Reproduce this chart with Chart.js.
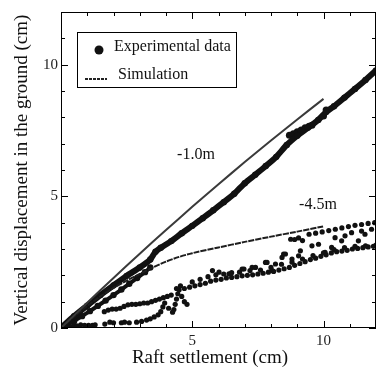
<!DOCTYPE html>
<html>
<head>
<meta charset="utf-8">
<script src="https://cdn.jsdelivr.net/npm/chart.js@4.4.1/dist/chart.umd.min.js"></script>
<style>
  html, body { margin: 0; padding: 0; background: #fff; overflow: hidden; }
  #wrap { width: 380px; height: 367px; }
</style>
</head>
<body>
<div id="wrap"><canvas id="chart" width="380" height="367"></canvas></div>
<script>
// axis ticks
const xTickLabels = [5, 10];
const yTickLabels = [0, 5, 10];

// simulation, -1.0 m
const simShallowX = [0, 1, 2, 3, 4, 5, 6, 7, 8, 9, 10];
const simShallowY = [0, 0.96, 1.9, 2.82, 3.72, 4.6, 5.46, 6.3, 7.12, 7.92, 8.7];

// simulation, -4.5 m
const simDeepX = [0, 0.5, 1, 1.5, 2, 2.5, 3, 3.5, 4, 4.5, 5, 6, 7, 8, 9, 10];
const simDeepY = [0, 0.44, 0.84, 1.2, 1.52, 1.8, 2.05, 2.3, 2.52, 2.7, 2.84, 3.06, 3.27, 3.47, 3.66, 3.86];

// experimental, -1.0 m (dense band)
const expShallowX = [0, 0.5, 1, 1.5, 2, 2.5, 3, 3.4, 3.6, 3.8, 4.2, 4.6, 5, 5.4, 5.8, 6.2, 6.6, 7, 7.4, 7.8, 8.2, 8.6, 9, 9.4, 9.8, 10.1, 10.4, 10.8, 11.2, 11.6, 12];
const expShallowY = [0, 0.45, 0.85, 1.25, 1.62, 1.98, 2.3, 2.6, 2.9, 3.05, 3.3, 3.6, 3.88, 4.17, 4.47, 4.78, 5.1, 5.5, 5.82, 6.15, 6.5, 6.95, 7.3, 7.6, 7.9, 8.2, 8.42, 8.75, 9.08, 9.42, 9.78];

// experimental, -1.0 m: thick side piece near 9 cm
const expShallowSideX = [8.7, 8.85, 9.0, 9.15, 9.3, 9.45, 9.56, 10.0, 10.1];
const expShallowSideY = [7.32, 7.38, 7.45, 7.52, 7.6, 7.66, 7.7, 8.05, 8.28];

// experimental, -4.5 m: early stream out of the origin
const expDeepStartX = [0.2, 0.5, 0.8, 1.1, 1.4, 1.7, 2.0, 2.3, 2.6, 2.9, 3.2, 3.4];
const expDeepStartY = [0.1, 0.27, 0.45, 0.64, 0.84, 1.04, 1.25, 1.46, 1.68, 1.9, 2.12, 2.3];

// experimental, -4.5 m: points near zero
const expDeepLowX = [0.05, 0.2, 0.35, 0.5, 0.6, 0.75, 0.9, 1.05, 1.2, 1.3, 1.67, 1.86, 2.0, 2.3, 2.42, 2.6, 2.88, 3.07, 3.26, 3.4, 3.55, 3.7, 3.8, 3.88, 3.95];
const expDeepLowY = [0.05, 0.08, 0.05, 0.1, 0.08, 0.12, 0.1, 0.1, 0.1, 0.12, 0.15, 0.22, 0.2, 0.2, 0.22, 0.2, 0.22, 0.25, 0.3, 0.35, 0.42, 0.5, 0.62, 0.8, 0.95];

// experimental, -4.5 m: main stream
const expDeepMidX = [1.65, 1.8, 1.95, 2.1, 2.25, 2.4, 2.55, 2.7, 2.85, 3.0, 3.15, 3.3, 3.45, 3.6, 3.75, 3.9, 4.05, 4.2,
  4.3, 4.35, 4.4, 4.45, 4.5, 4.55, 4.4, 4.6, 4.7, 4.8, 4.25, 4.1,
  4.7, 4.9, 5.1, 5.3, 5.5, 5.7, 5.9, 6.1, 6.3, 6.5, 6.7, 6.9, 7.1, 7.3, 7.5, 7.7, 7.9, 8.1, 8.3, 8.5, 8.7, 8.9, 9.1, 9.3, 9.5, 9.7, 9.9, 10.1, 10.3, 10.5, 10.7, 10.9, 11.1, 11.3, 11.5, 11.7, 11.9,
  5.0, 5.3, 5.6, 5.9, 6.2, 6.5, 6.8, 7.2, 7.6, 8.0, 8.4, 8.8, 9.2, 9.6, 10.0, 10.4, 10.8, 11.2, 11.6, 12.0];
const expDeepMidY = [0.62, 0.68, 0.72, 0.72, 0.75, 0.82, 0.88, 0.9, 0.9, 0.92, 0.95, 0.95, 1.0, 1.05, 1.1, 1.15, 1.2, 1.25,
  0.7, 0.9, 1.1, 1.3, 1.45, 1.6, 1.5, 1.2, 1.0, 0.9, 0.6, 0.75,
  1.5, 1.55, 1.6, 1.65, 1.7, 1.78, 1.82, 1.85, 1.9, 1.92, 1.95, 1.98, 2.0, 2.02, 2.05, 2.08, 2.12, 2.15, 2.2, 2.25, 2.3, 2.38, 2.45, 2.52, 2.6, 2.65, 2.72, 2.78, 2.85, 2.9, 2.92, 2.95, 3.0, 3.02, 3.05, 3.08, 3.1,
  1.75, 1.85, 1.95, 2.02, 2.05, 2.1, 2.12, 2.18, 2.2, 2.3, 2.42, 2.5, 2.62, 2.75, 2.85, 2.98, 3.05, 3.1, 3.12, 3.15];

// experimental, -4.5 m: upper scatter
const expDeepHighX = [5.77, 6.02, 6.4, 6.9, 6.97, 7.28, 7.41, 7.79, 7.85, 8.04, 8.17, 8.42, 8.48, 8.55, 8.8, 9.05, 9.12, 9.56, 9.81, 10.06, 10.31, 10.44, 10.69, 10.82, 11.07, 11.33, 11.45, 11.58, 11.83,
  8.75, 8.9, 9.05, 9.2, 9.45, 9.7, 9.95, 10.2, 10.45, 10.7, 10.95, 11.2, 11.45, 11.7, 11.95];
const expDeepHighY = [2.18, 2.12, 2.06, 2.24, 2.24, 2.3, 2.3, 2.49, 2.49, 2.18, 2.43, 2.68, 2.81, 2.81, 2.62, 2.74, 2.93, 3.12, 3.18, 2.87, 3.06, 3.43, 3.31, 3.5, 3.62, 3.31, 3.68, 3.56, 3.75,
  3.37, 3.36, 3.42, 3.32, 3.56, 3.6, 3.65, 3.7, 3.75, 3.8, 3.85, 3.9, 3.93, 3.97, 4.0];

const serif = "'Liberation Serif', 'Times New Roman', serif";
const ink = "#111";

function toPoints(xs, ys) {
  return xs.map((x, i) => ({ x, y: ys[i] }));
}

function dotSet(xs, ys, r = 2.6) {
  return {
    data: toPoints(xs, ys),
    showLine: false,
    pointRadius: r,
    pointBackgroundColor: ink,
    pointBorderWidth: 0,
  };
}

function bandSet(xs, ys, width) {
  return {
    data: toPoints(xs, ys),
    showLine: true,
    borderColor: ink,
    borderWidth: width,
    pointRadius: 3.2,
    pointBackgroundColor: ink,
    pointBorderWidth: 0,
    tension: 0.2,
  };
}

function simSet(xs, ys, color, dash) {
  return {
    data: toPoints(xs, ys),
    showLine: true,
    borderColor: color,
    borderWidth: 2,
    borderDash: dash,
    pointRadius: 0,
    tension: 0.3,
  };
}

// frame with inward ticks on all four sides, legend, labels
const framePlugin = {
  id: "frame",
  afterDraw(chart) {
    const { ctx, chartArea: a, scales } = chart;
    const xs = scales.x;
    const ys = scales.y;
    ctx.save();
    ctx.strokeStyle = "#000";
    ctx.lineWidth = 1;
    ctx.strokeRect(a.left + 0.5, a.top + 0.5, a.right - a.left - 1, a.bottom - a.top - 1);

    ctx.beginPath();
    for (let v = 0; v <= 12; v++) {
      const len = v % 5 === 0 ? 7 : 4;
      const px = Math.round(xs.getPixelForValue(v)) + 0.5;
      ctx.moveTo(px, a.bottom);
      ctx.lineTo(px, a.bottom - len);
      ctx.moveTo(px, a.top);
      ctx.lineTo(px, a.top + len);
      const py = Math.round(ys.getPixelForValue(v)) + 0.5;
      ctx.moveTo(a.left, py);
      ctx.lineTo(a.left + len, py);
      ctx.moveTo(a.right, py);
      ctx.lineTo(a.right - len, py);
    }
    ctx.stroke();

    // legend box
    ctx.fillStyle = "#fff";
    ctx.fillRect(77, 32, 159, 55);
    ctx.strokeRect(77.5, 32.5, 159, 55);
    ctx.fillStyle = ink;
    ctx.beginPath();
    ctx.arc(99, 50, 4.5, 0, Math.PI * 2);
    ctx.fill();
    ctx.strokeStyle = "#222";
    ctx.lineWidth = 2;
    ctx.setLineDash([3, 1]);
    ctx.beginPath();
    ctx.moveTo(85, 79);
    ctx.lineTo(107, 79);
    ctx.stroke();
    ctx.setLineDash([]);

    ctx.fillStyle = "#111";
    ctx.textBaseline = "alphabetic";
    ctx.textAlign = "left";
    ctx.font = "16px " + serif;
    ctx.fillText("Experimental data", 114, 51);
    ctx.fillText("Simulation", 118, 79);

    ctx.textAlign = "center";
    ctx.fillText("-1.0m", 196, 159);
    ctx.fillText("-4.5m", 318, 209);

    ctx.font = "19px " + serif;
    ctx.textBaseline = "middle";
    ctx.fillText("Raft settlement (cm)", 210, 358);
    ctx.restore();
  },
};

new Chart(document.getElementById("chart"), {
  type: "scatter",
  data: {
    datasets: [
      simSet(simShallowX, simShallowY, "#3a3a3a", []),
      simSet(simDeepX, simDeepY, "#1e1e1e", [6, 1]),
      bandSet(expShallowX, expShallowY, 6),
      dotSet(expShallowSideX, expShallowSideY, 3.5),
      bandSet(expDeepStartX, expDeepStartY, 4),
      dotSet(expDeepLowX, expDeepLowY),
      dotSet(expDeepMidX, expDeepMidY),
      dotSet(expDeepHighX, expDeepHighY),
    ],
  },
  options: {
    responsive: false,
    animation: false,
    events: [],
    layout: { padding: { top: 9, right: 2, left: 0, bottom: 0 } },
    plugins: {
      legend: { display: false },
      tooltip: { enabled: false },
    },
    scales: {
      x: {
        type: "linear",
        min: 0,
        max: 12,
        afterFit: (s) => { s.height = 39; },
        grid: { display: false, drawTicks: false },
        border: { display: false },
        ticks: {
          stepSize: 1,
          autoSkip: false,
          maxRotation: 0,
          padding: 4,
          color: "#222",
          font: { family: serif, size: 15 },
          callback: (v) => (xTickLabels.includes(v) ? String(v) : ""),
        },
      },
      y: {
        type: "linear",
        min: 0,
        max: 12,
        afterFit: (s) => { s.width = 61; },
        grid: { display: false, drawTicks: false },
        border: { display: false },
        ticks: {
          stepSize: 1,
          autoSkip: false,
          padding: 3,
          color: "#222",
          font: { family: serif, size: 15 },
          callback: (v) => (yTickLabels.includes(v) ? String(v) : ""),
        },
        title: {
          display: true,
          text: "Vertical displacement in the ground (cm)",
          color: "#111",
          font: { family: serif, size: 19, lineHeight: 1 },
          padding: { top: 13, bottom: 0 },
        },
      },
    },
  },
  plugins: [framePlugin],
});
</script>
</body>
</html>
